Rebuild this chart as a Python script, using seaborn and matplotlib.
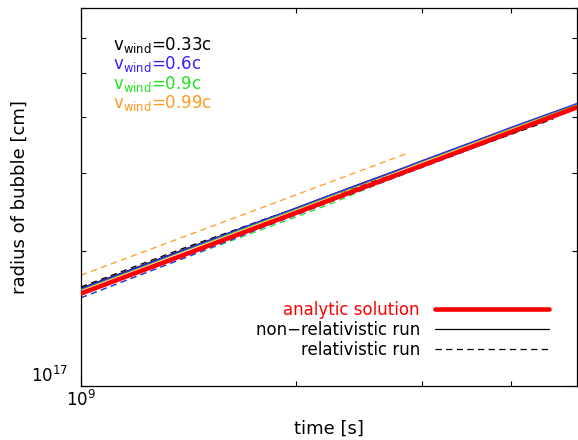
import numpy as np
import pandas as pd
import matplotlib
matplotlib.use("Agg")
import matplotlib.pyplot as plt
from matplotlib.lines import Line2D
from matplotlib.ticker import LogLocator, NullFormatter, LogFormatterSciNotation, FixedLocator
import seaborn as sns

sns.set_style("ticks")
plt.rcParams["font.family"] = ["DejaVu Sans"]
plt.rcParams["mathtext.fontset"] = "dejavusans"
plt.rcParams["text.color"] = "black"
plt.rcParams["axes.labelcolor"] = "black"

# ---- data (time in 1e9 s, radius in 1e17 cm) ----
t_grid = [1.0, 1.2, 1.4, 1.6, 1.8, 2.0, 2.25, 2.5, 2.75, 3.0, 3.3, 3.6, 4.0, 4.4, 4.8, 5.0]

analytic = [1.610, 1.796, 1.970, 2.135, 2.291, 2.440, 2.619, 2.790, 2.954, 3.112,
            3.295, 3.472, 3.700, 3.916, 4.126, 4.229]

# non-relativistic runs (solid)
nr_033 = [1.655, 1.845, 2.025, 2.190, 2.350, 2.500, 2.685, 2.860, 3.025, 3.185,
          3.370, 3.550, 3.775, 3.985, 4.190, 4.290]
nr_06 = [1.650, 1.840, 2.020, 2.190, 2.350, 2.500, 2.685, 2.855, 3.020, 3.190,
         3.375, 3.555, 3.790, 4.005, 4.210, 4.315]
nr_09 = [1.645, 1.835, 2.015, 2.180, 2.340, 2.490, 2.675, 2.850, 3.020, 3.180,
         3.365, 3.548, 3.780, 3.995, 4.195, 4.295]
nr_099 = [1.640, 1.830, 2.010, 2.175, 2.335, 2.485, 2.670, 2.840, 3.010, 3.170,
          3.355, 3.535, 3.765, 3.980, 4.180, 4.280]

# relativistic runs (dashed)
t_rel_033 = [1.0, 1.2, 1.4, 1.6, 1.8, 2.0, 2.25, 2.5, 2.75, 3.0, 3.3, 3.6, 4.0, 4.3, 4.58]
r_rel_033 = [1.665, 1.860, 2.040, 2.200, 2.355, 2.495, 2.670, 2.830, 2.975, 3.115,
             3.280, 3.440, 3.655, 3.810, 3.960]
t_rel_06 = [1.0, 1.2, 1.4, 1.6, 1.8, 2.0, 2.25, 2.5, 2.75, 3.0, 3.3, 3.6, 4.0, 4.4]
r_rel_06 = [1.575, 1.762, 1.938, 2.105, 2.265, 2.412, 2.592, 2.762, 2.925, 3.080,
            3.262, 3.440, 3.665, 3.880]
t_rel_09 = [1.0, 1.2, 1.4, 1.6, 1.8, 2.0, 2.25, 2.5, 2.75, 3.0, 3.3, 3.6, 4.0, 4.4]
r_rel_09 = [1.575, 1.762, 1.935, 2.095, 2.245, 2.390, 2.565, 2.755, 2.925, 3.085,
            3.265, 3.445, 3.670, 3.885]
t_rel_099 = [1.0, 1.2, 1.4, 1.6, 1.8, 2.0, 2.25, 2.5, 2.75, 2.87]
r_rel_099 = [1.769, 1.973, 2.163, 2.342, 2.513, 2.676, 2.872, 3.057, 3.236, 3.321]

wind_labels = ["0.33c", "0.6c", "0.9c", "0.99c"]
wind_colors = ["#000000", "#3a1fff", "#1ee61e", "#ff9a22"]

legend_labels = ["analytic solution", "non\u2212relativistic run", "relativistic run"]

T_UNIT, R_UNIT = 1e9, 1e17
DASH = (0, (5, 3.5))

fig = plt.figure(figsize=(5.78, 4.40), dpi=100)
ax = fig.add_axes([81 / 578, 54 / 440, 496 / 578, 378 / 440])


def draw(t, r, color, lw, ls, z):
    df = pd.DataFrame({"t": np.asarray(t) * T_UNIT, "r": np.asarray(r) * R_UNIT})
    sns.lineplot(data=df, x="t", y="r", ax=ax, color=color, linewidth=lw,
                 linestyle=ls, estimator=None, sort=False, zorder=z)


rel_runs = [(t_rel_09, r_rel_09), (t_rel_06, r_rel_06), (t_rel_033, r_rel_033), (t_rel_099, r_rel_099)]
rel_colors = [wind_colors[2], wind_colors[1], wind_colors[0], wind_colors[3]]
for (t, r), c in zip(rel_runs, rel_colors):
    draw(t, r, c, 0.9, DASH, 2)

for r, c in zip([nr_033, nr_099, nr_09, nr_06], [wind_colors[0], wind_colors[3], wind_colors[2], wind_colors[1]]):
    draw(t_grid, r, c, 0.9, "-", 3)

draw(t_grid, analytic, "#ff0000", 3.3, "-", 4)

ax.set_xscale("log")
ax.set_yscale("log")
ax.set_xlim(1e9, 4.94e9)
ax.set_ylim(1e17, 7.0e17)

ax.xaxis.set_major_locator(FixedLocator([1e9]))
ax.yaxis.set_major_locator(FixedLocator([1e17]))
ax.xaxis.set_major_formatter(LogFormatterSciNotation())
ax.yaxis.set_major_formatter(LogFormatterSciNotation())
ax.xaxis.set_minor_locator(LogLocator(base=10, subs=np.arange(2, 10)))
ax.yaxis.set_minor_locator(LogLocator(base=10, subs=np.arange(2, 10)))
ax.xaxis.set_minor_formatter(NullFormatter())
ax.yaxis.set_minor_formatter(NullFormatter())

ax.tick_params(which="both", direction="in", top=True, right=True, colors="black",
               width=0.8, labelsize=12)
ax.tick_params(which="major", length=8)
ax.tick_params(which="minor", length=3.5)
ax.tick_params(axis="x", which="major", pad=3)
ax.tick_params(axis="y", which="major", pad=9)
for lab in ax.get_yticklabels():
    lab.set_verticalalignment("bottom")

for sp in ax.spines.values():
    sp.set_color("black")
    sp.set_linewidth(0.9)

ax.set_xlabel("time [s]", fontsize=13, color="black")
ax.set_ylabel("radius of bubble [cm]", fontsize=13, color="black")
ax.xaxis.set_label_coords(0.5, -0.09)
ax.yaxis.set_label_coords(-0.105, 0.5)

baselines = [0.890, 0.839, 0.787, 0.735]
for lab, col, yb in zip(wind_labels, wind_colors, baselines):
    ax.text(0.0645, yb, r"$\mathregular{v_{wind}}$=" + lab, transform=ax.transAxes,
            color=col, fontsize=12, ha="left", va="baseline")

handles = [Line2D([], [], color="#ff0000", lw=3.3),
           Line2D([], [], color="black", lw=0.9),
           Line2D([], [], color="black", lw=0.9, linestyle=DASH)]
ax.legend(handles, legend_labels, loc="lower right", bbox_to_anchor=(0.9435, 0.0714),
          frameon=False, markerfirst=False, fontsize=12, handlelength=6.85,
          handletextpad=0.9, labelspacing=0.12, borderpad=0, borderaxespad=0,
          labelcolor=["#ff0000", "black", "black"])

fig.savefig("out.png", dpi=100, facecolor="white")
